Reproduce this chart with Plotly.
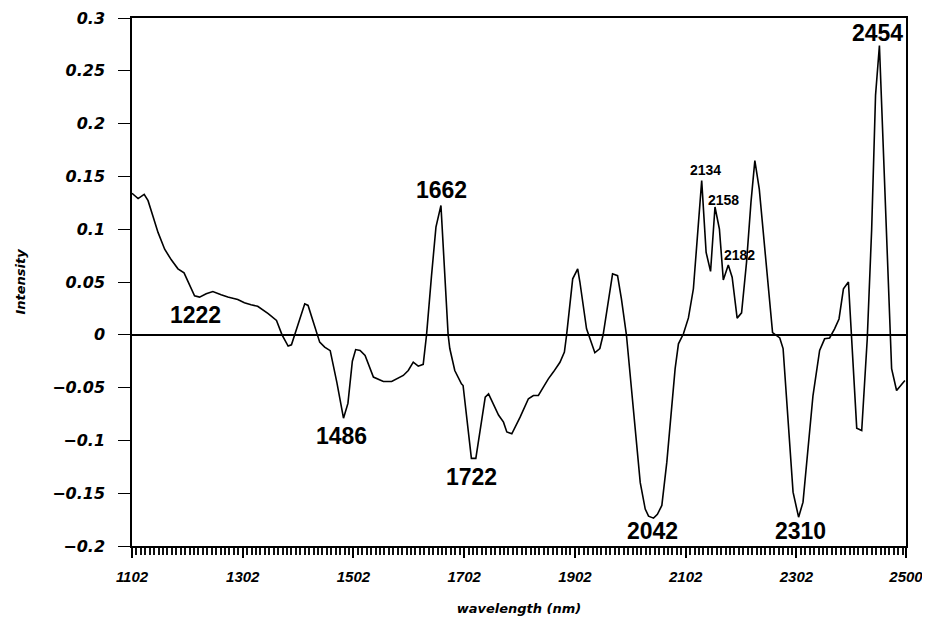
import plotly.graph_objects as go

wavelength = [1102, 1113, 1124, 1131, 1140, 1149, 1161, 1173, 1185, 1196, 1215, 1224, 1236, 1248,
              1263, 1275, 1293, 1305, 1317, 1329, 1348, 1363, 1373, 1384, 1390, 1402, 1414, 1420,
              1431, 1441, 1450, 1460, 1472, 1484, 1492, 1500, 1506, 1514, 1523, 1538, 1556, 1571,
              1592, 1601, 1610, 1619, 1628, 1634, 1643, 1651, 1660, 1673, 1676, 1685, 1697, 1700,
              1715, 1723, 1740, 1746, 1764, 1773, 1779, 1788, 1803, 1818, 1827, 1836, 1845, 1854,
              1863, 1875, 1883, 1887, 1898, 1907, 1911, 1923, 1938, 1947, 1953, 1970, 1979, 1986,
              1995, 2007, 2020, 2029, 2035, 2044, 2051, 2059, 2068, 2083, 2089, 2098, 2107, 2116,
              2131, 2139, 2147, 2155, 2163, 2170, 2179, 2186, 2195, 2203, 2212, 2220, 2227, 2235,
              2249, 2259, 2272, 2278, 2296, 2306, 2314, 2332, 2344, 2353, 2362, 2371, 2379, 2387,
              2396, 2402, 2411, 2420, 2430, 2438, 2445, 2452, 2474, 2483, 2498]
intensity = [0.134, 0.129, 0.133, 0.127, 0.112, 0.097, 0.081, 0.071, 0.0625, 0.0587, 0.037, 0.0357,
             0.0388, 0.041, 0.0379, 0.0357, 0.0334, 0.0303, 0.0284, 0.027, 0.020, 0.0136, 0.0,
             -0.0107, -0.0095, 0.0104, 0.0293, 0.0278, 0.009, -0.007, -0.0117, -0.015, -0.045,
             -0.079, -0.065, -0.025, -0.014, -0.0148, -0.0196, -0.040, -0.0442, -0.0442, -0.0385,
             -0.0338, -0.0259, -0.0297, -0.028, 0.0, 0.056, 0.102, 0.1225, 0.0, -0.013, -0.0338,
             -0.0464, -0.048, -0.117, -0.117, -0.059, -0.056, -0.076, -0.0827, -0.092, -0.0937,
             -0.078, -0.0606, -0.0575, -0.0575, -0.0496, -0.0417, -0.0353, -0.026, -0.0164, 0.0,
             0.053, 0.0625, 0.05, 0.0057, -0.017, -0.013, 0.0, 0.0578, 0.056, 0.034, 0.0, -0.064,
             -0.140, -0.165, -0.1717, -0.1736, -0.170, -0.1616, -0.1206, -0.032, -0.0085, 0.001,
             0.016, 0.0436, 0.146, 0.078, 0.060, 0.121, 0.100, 0.052, 0.066, 0.0546, 0.0158,
             0.0208, 0.0688, 0.1256, 0.165, 0.138, 0.0593, 0.002, -0.003, -0.013, -0.149, -0.1727,
             -0.1585, -0.0575, -0.0148, -0.0038, -0.003, 0.0057, 0.015, 0.0436, 0.05, -0.0038,
             -0.0884, -0.0906, -0.004, 0.1, 0.227, 0.274, -0.032, -0.0527, -0.0433]

x_tick_vals = [1102, 1302, 1502, 1702, 1902, 2102, 2302, 2500]
x_minor_step = 8
y_tick_vals = [0.3, 0.25, 0.2, 0.15, 0.1, 0.05, 0, -0.05, -0.1, -0.15, -0.2]
y_tick_text = ["0.3", "0.25", "0.2", "0.15", "0.1", "0.05", "0", "\u22120.05", "\u22120.1",
               "\u22120.15", "\u22120.2"]

big_labels = ["1222", "1486", "1662", "1722", "2042", "2310", "2454"]
small_labels = ["2134", "2158", "2182"]

# label anchor positions (data coords)
big_label_x = [1216, 1481, 1661, 1716, 2042, 2309, 2449]
big_label_y = [0.019, -0.0956, 0.137, -0.135, -0.186, -0.186, 0.286]
small_label_x = [2137, 2170, 2199]
small_label_y = [0.156, 0.128, 0.0758]

minor_vals = list(range(x_tick_vals[0], x_tick_vals[-1] + 1, x_minor_step))

fig = go.Figure()
fig.add_trace(go.Scatter(x=wavelength, y=intensity, mode="lines",
                         line=dict(color="black", width=1.6), showlegend=False,
                         hoverinfo="skip"))
# helper trace so the major-tick axis (x2) is drawn
fig.add_trace(go.Scatter(x=[x_tick_vals[0], x_tick_vals[-1]], y=[0, 0], xaxis="x2",
                         mode="lines", line=dict(width=0), opacity=0,
                         showlegend=False, hoverinfo="skip"))

for t, x, y in zip(big_labels, big_label_x, big_label_y):
    fig.add_annotation(x=x, y=y, text="<b>" + t + "</b>", showarrow=False,
                       font=dict(family="Liberation Sans, Arial", size=23, color="black"))
for t, x, y in zip(small_labels, small_label_x, small_label_y):
    fig.add_annotation(x=x, y=y, text="<b>" + t + "</b>", showarrow=False,
                       font=dict(family="Liberation Sans, Arial", size=14, color="black"))

ytickfont = dict(family="DejaVu Sans", size=16, color="black", style="italic", weight="bold")
xtickfont = dict(family="Liberation Sans", size=15, color="black",
                 style="italic", weight="bold")
titlefont = dict(family="DejaVu Sans", size=13, color="black", style="italic", weight="bold")

fig.update_layout(
    width=930, height=619,
    margin=dict(l=124, r=32, t=10, b=81),
    paper_bgcolor="white", plot_bgcolor="white",
    xaxis=dict(range=[1102, 2500], tickmode="array", tickvals=minor_vals,
               ticktext=[""] * len(minor_vals),
               showticklabels=False, automargin=False,
               showline=True, linecolor="black", linewidth=1.5, mirror=True,
               ticks="outside", ticklen=7, tickwidth=1.5, tickcolor="#111111",
               showgrid=False, zeroline=False),
    xaxis2=dict(range=[1102, 2500], overlaying="x", anchor="y", side="bottom",
                tickvals=x_tick_vals, ticktext=[str(v) for v in x_tick_vals],
                automargin=False, showline=False,
                ticks="outside", ticklen=11, tickwidth=1.6, tickcolor="black",
                showgrid=False, zeroline=False, tickfont=xtickfont, ticklabelstandoff=6,
                title=dict(text="wavelength (nm)", standoff=19, font=titlefont)),
    yaxis=dict(range=[-0.2, 0.3], tickvals=y_tick_vals, ticktext=y_tick_text,
               automargin=False,
               showline=True, linecolor="black", linewidth=1.5, mirror=True,
               ticks="outside", ticklen=12, tickwidth=1.3, tickcolor="black",
               showgrid=False, zeroline=True, zerolinecolor="black", zerolinewidth=1.5,
               tickfont=ytickfont, ticklabelstandoff=10,
               title=dict(text="Intensity", standoff=24, font=titlefont)),
)

fig.write_html("out.html")
